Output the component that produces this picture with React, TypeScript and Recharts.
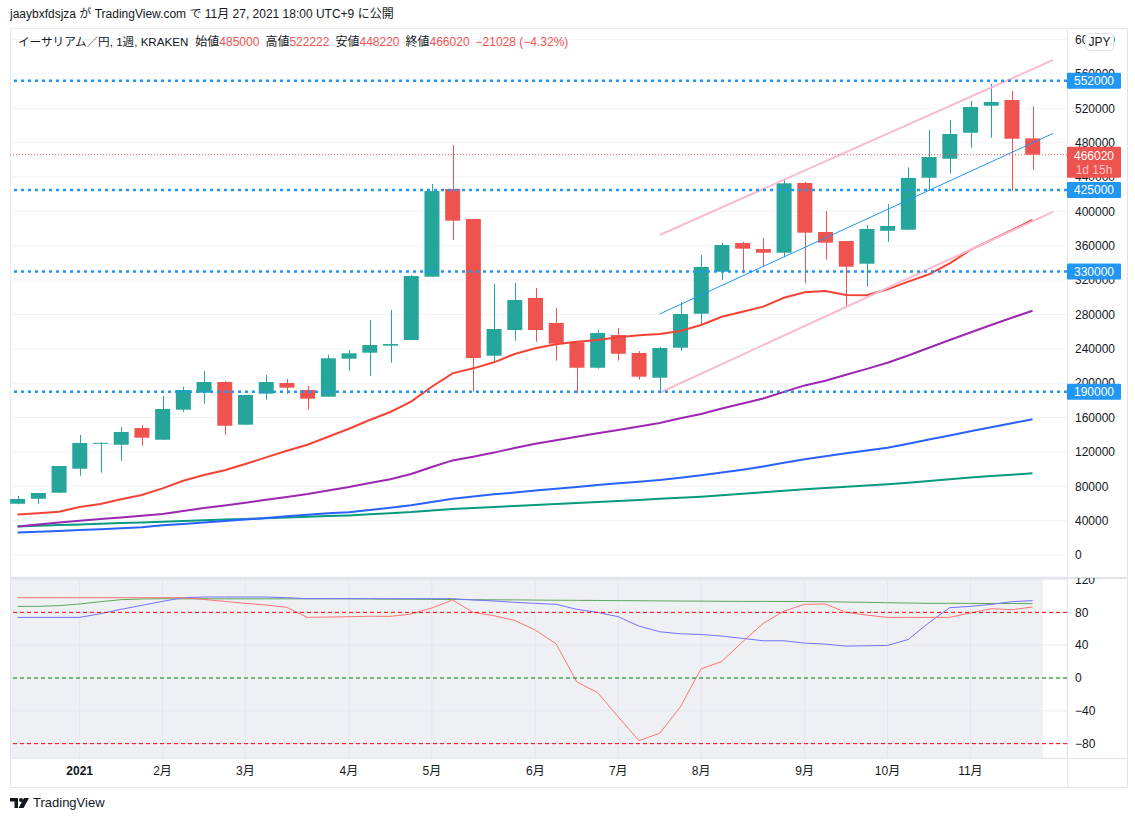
import React from 'react';
import {
  Bar,
  CartesianGrid,
  ComposedChart,
  Line,
  ReferenceArea,
  ReferenceLine,
  XAxis,
  YAxis,
} from 'recharts';

const FONT = '"Liberation Sans", "Noto Sans CJK JP", Arial, sans-serif';
const TEXT = '#131722';
const UP = '#26a69a';
const DOWN = '#ef5350';
const BORDER = '#e0e3eb';

// weekly candles, 2020-12-14 .. 2021-11-22 (ETH/JPY, KRAKEN)
const opens = [
  59700, 65500, 72500, 100500, 129800, 128400, 147800, 134200, 169200, 188900,
  201400, 151700, 187800, 200200, 192100, 184300, 228500, 235500, 243700, 250300,
  324000, 426100, 391200, 232000, 261900, 299200, 270100, 247600, 218000, 256100,
  235200, 206400, 241300, 280900, 329800, 363200, 356200, 351900, 433100, 376000,
  365500, 339100, 377500, 378700, 439200, 461300, 491600, 523000, 529700, 485000,
];
const highs = [
  68700, 72200, 103600, 139700, 131200, 149000, 151300, 185100, 195900, 214200,
  202600, 186300, 209500, 204900, 196700, 233000, 238600, 273600, 285200, 326000,
  431900, 477300, 391200, 315500, 316600, 310800, 287500, 247600, 261900, 264300,
  237500, 242100, 294500, 349200, 363600, 364700, 369000, 437400, 434200, 400500,
  365500, 384200, 408600, 451300, 494800, 506400, 528500, 548300, 540200, 522222,
];
const lows = [
  59000, 59700, 72500, 92300, 95800, 109800, 127200, 134200, 166500, 176100,
  140000, 151700, 180800, 187800, 169200, 184300, 214600, 208700, 223900, 250300,
  324000, 366700, 190100, 225800, 249500, 248300, 226200, 188200, 216900, 226200,
  204100, 190100, 237800, 267800, 320100, 327900, 336400, 346600, 316300, 343800,
  289900, 312300, 364700, 378700, 424100, 443900, 474200, 485800, 423700, 448220,
];
const closes = [
  65200, 72200, 103600, 130400, 130600, 143200, 136600, 170000, 192100, 201400,
  150500, 186300, 201400, 194800, 182000, 229000, 234800, 244500, 245600, 324800,
  423700, 389200, 229300, 263100, 296900, 261900, 246000, 218000, 258400, 234300,
  207600, 241000, 280600, 335300, 360900, 356600, 351900, 432700, 375200, 363600,
  335600, 379500, 383000, 438900, 463300, 490100, 521500, 527400, 484600, 466020,
];

const maRed = [
  47100, 48500, 50400, 55900, 59400, 64800, 69800, 77600, 86500, 93100,
  98600, 105900, 113700, 121400, 128400, 137700, 147000, 157200, 166500, 178500,
  195900, 211500, 217300, 224300, 234000, 240600, 245300, 248300, 250300, 253400,
  255800, 257300, 260800, 267800, 277400, 283200, 289100, 299500, 305800, 307300,
  302700, 302300, 309300, 318200, 326800, 339600, 355100, 366700, 378300, 390000,
];
const maPurple = [
  33060, 35390, 37720, 39930, 41790, 43650, 45630, 47730, 51220, 54710,
  57740, 60880, 64260, 67640, 71010, 75200, 79160, 83930, 88240, 94290,
  102440, 110130, 114430, 119210, 124560, 129450, 133530, 137600, 141680, 145520,
  149590, 153670, 159140, 164140, 170550, 176370, 182190, 189870, 197440, 202910,
  209780, 216650, 223870, 232250, 241210, 250290, 259020, 267750, 276140, 284400,
];
const maBlue = [
  26190, 27010, 27940, 29100, 30030, 31080, 32250, 34570, 36090, 37830,
  39580, 41330, 43070, 45050, 46800, 48540, 49710, 52390, 55060, 57860,
  61700, 65420, 68100, 70660, 72640, 74970, 77070, 79160, 81490, 83470,
  85330, 87310, 89990, 92780, 96040, 99180, 103030, 107330, 111530, 114900,
  118390, 121650, 124910, 129570, 134460, 139120, 144120, 148780, 153430, 157970,
];
const maGreen = [
  33180, 33990, 34810, 35620, 36440, 37140, 37950, 38770, 39580, 40400,
  41210, 42030, 42720, 43540, 44470, 45290, 46100, 47380, 48660, 49940,
  51800, 53670, 54830, 56000, 57160, 58210, 59370, 60540, 61700, 62860,
  64030, 65420, 66590, 67870, 69610, 71360, 72990, 74740, 76480, 78000,
  79390, 80910, 82310, 84170, 86150, 88130, 90220, 91850, 93480, 95110,
];

const oscRed = [
  97.9, 97.9, 97.9, 97.9, 97.9, 97.9, 97.9, 97.9, 97.9, 95.7,
  93.4, 91, 89, 86.1, 73.9, 74.3, 74.7, 75.3, 75.1, 78,
  85.3, 95.1, 80, 75.9, 70.2, 58.4, 41.7, -4.7, -17.7, -47.4,
  -76.3, -67.4, -35.2, 11.2, 20.2, 44, 66.6, 81.6, 89.8, 90.2,
  80, 76.7, 73.9, 73.9, 73.9, 73.9, 79.2, 84.5, 83.3, 86.5,
];
const oscBlue = [
  73.9, 73.9, 73.9, 73.9, 78.4, 83.7, 88.6, 93.4, 97.9, 98.7,
  98.7, 98.7, 98.7, 97.9, 96.7, 96.7, 96.7, 96.7, 96.7, 96.7,
  96.7, 96.7, 95.1, 93.9, 92.2, 91, 89.8, 83.7, 80, 74.7,
  63.3, 56.4, 53.9, 53.1, 51.1, 48.3, 45.4, 45.4, 42.5, 41.3,
  38.9, 39.3, 39.7, 47, 67.4, 85.7, 87.3, 89.8, 93, 94.3,
];
const oscGreen = [
  87.3, 87.3, 88.2, 90.2, 93, 95.5, 96.3, 96.7, 96.5, 96.5,
  96.5, 96.5, 96.5, 96.5, 96.5, 96.5, 96.5, 96.3, 96.1, 96,
  95.8, 95.7, 95.5, 95.3, 95.2, 95, 94.8, 94.7, 94.5, 94.3,
  94.2, 94, 93.8, 93.7, 93.5, 93.4, 93.4, 93.3, 93.2, 93,
  92.6, 92.2, 91.8, 91.4, 91, 91, 91, 90.8, 90.8, 90.6,
];

const monthTicks = [3, 7, 11, 16, 20, 25, 29, 33, 38, 42, 46];
const monthLabels = ['2021', '2月', '3月', '4月', '5月', '6月', '7月', '8月', '9月', '10月', '11月'];

const priceTicks = [
  0, 40000, 80000, 120000, 160000, 200000, 240000, 280000,
  320000, 360000, 400000, 440000, 480000, 520000, 560000, 600000,
];
const oscTicks = [120, 80, 40, 0, -40, -80];

const levels = [552000, 425000, 330000, 190000];
const lastPrice = 466020;
const countdown = '1d 15h';

const channelTop = [{ x: 31, y: 372500 }, { x: 50, y: 576300 }];
const channelBottom = [{ x: 31, y: 188900 }, { x: 50, y: 399700 }];
const trendMid = [{ x: 31, y: 280600 }, { x: 50, y: 490900 }];

const X_DOMAIN: [number, number] = [-0.362, 50.664];
const PRICE_DOMAIN: [number, number] = [-25600, 613500];
const OSC_DOMAIN: [number, number] = [-97.5, 121.9];

const rows = opens.map((o, i) => ({
  i,
  o,
  h: highs[i],
  l: lows[i],
  c: closes[i],
  range: [lows[i], highs[i]],
  maRed: maRed[i],
  maPurple: maPurple[i],
  maBlue: maBlue[i],
  maGreen: maGreen[i],
  oscRed: oscRed[i],
  oscBlue: oscBlue[i],
  oscGreen: oscGreen[i],
}));

function Candle(props: any) {
  const { x, y, width, height, payload } = props;
  if (!payload || height == null || isNaN(y)) return null;
  const top = Math.min(y, y + height);
  const span = Math.abs(height);
  const { o, h, l, c } = payload;
  const k = span / (h - l || 1);
  const bodyHi = Math.max(o, c);
  const bodyLo = Math.min(o, c);
  const col = c >= o ? UP : DOWN;
  const cx = Math.round(x + width / 2) + 0.5;
  return (
    <g>
      <line x1={cx} x2={cx} y1={top} y2={top + span} stroke={col} strokeWidth={1} />
      <rect x={x} y={top + (h - bodyHi) * k} width={width} height={Math.max(1, (bodyHi - bodyLo) * k)} fill={col} />
    </g>
  );
}

function LevelTag(props: any) {
  const { viewBox, text } = props;
  if (!viewBox) return null;
  const left = viewBox.x + viewBox.width;
  const y = viewBox.y;
  return (
    <g>
      <rect x={left} y={y - 8} width={54} height={16} rx={1} fill="#2196f3" />
      <text x={left + 27} y={y} dy="0.36em" textAnchor="middle" fill="#fff" fontSize={12} fontFamily={FONT}>
        {text}
      </text>
    </g>
  );
}

function LastTag(props: any) {
  const { viewBox } = props;
  if (!viewBox) return null;
  const left = viewBox.x + viewBox.width;
  const y = viewBox.y;
  return (
    <g>
      <rect x={left} y={y - 8} width={54} height={31} rx={1} fill="#ef5350" />
      <text x={left + 27} y={y + 1} dy="0.36em" textAnchor="middle" fill="#fff" fontSize={12} fontFamily={FONT}>
        {lastPrice}
      </text>
      <text x={left + 27} y={y + 15} dy="0.36em" textAnchor="middle" fill="#fbc4c4" fontSize={12} fontFamily={FONT}>
        {countdown}
      </text>
    </g>
  );
}

function TimeTick(props: any) {
  const { x, y, payload } = props;
  const label = monthLabels[monthTicks.indexOf(payload.value)];
  return (
    <text x={x} y={y} dy="0.71em" textAnchor="middle" fill={TEXT} fontSize={12} fontFamily={FONT}
      fontWeight={label === '2021' ? 700 : 400}>
      {label}
    </text>
  );
}

const axisTick = { fill: TEXT, fontSize: 12, fontFamily: FONT };

export default function App() {
  return (
    <div style={{ position: 'absolute', left: 0, top: 0, width: 1135, height: 821, background: '#fff', fontFamily: FONT, color: TEXT }}>
      <div style={{ position: 'absolute', left: 10, top: 6, fontSize: 12, lineHeight: '16px', whiteSpace: 'nowrap' }}>
        jaaybxfdsjza が TradingView.com で 11月 27, 2021 18:00 UTC+9 に公開
      </div>

      {/* frame and pane separators */}
      <div style={{ position: 'absolute', left: 10, top: 28, width: 1116, height: 758, border: `1px solid ${BORDER}` }} />
      <div style={{ position: 'absolute', left: 10, top: 577, width: 1117, height: 2, background: BORDER }} />
      <div style={{ position: 'absolute', left: 10, top: 758, width: 1117, height: 1, background: BORDER }} />
      <div style={{ position: 'absolute', left: 1067, top: 28, width: 1, height: 759, background: BORDER }} />

      <div style={{ position: 'absolute', left: 10, top: 28 }}>
        <ComposedChart width={1117} height={549} data={rows} margin={{ top: 0, right: 0, bottom: 0, left: 0 }}>
          <CartesianGrid stroke="#f0f3fa" />
          <XAxis dataKey="i" type="number" domain={X_DOMAIN} ticks={monthTicks} allowDataOverflow
            height={0} tick={false} axisLine={false} tickLine={false} />
          <YAxis orientation="right" type="number" domain={PRICE_DOMAIN} ticks={priceTicks} allowDataOverflow
            width={60} axisLine={false} tickLine={false} tick={axisTick} interval={0} />
          <Line dataKey="maGreen" stroke="#089981" strokeWidth={2} dot={false} isAnimationActive={false} />
          <Line dataKey="maBlue" stroke="#2962ff" strokeWidth={2} dot={false} isAnimationActive={false} />
          <Line dataKey="maPurple" stroke="#9c27b0" strokeWidth={2} dot={false} isAnimationActive={false} />
          <Line dataKey="maRed" stroke="#f44336" strokeWidth={2} dot={false} isAnimationActive={false} />
          <Bar dataKey="range" barSize={15} shape={(p: any) => <Candle {...p} />} isAnimationActive={false} />
          <ReferenceLine segment={channelTop} stroke="#f8bbd0" strokeWidth={2} />
          <ReferenceLine segment={channelBottom} stroke="#f8bbd0" strokeWidth={2} />
          <ReferenceLine segment={trendMid} stroke="#2196f3" strokeWidth={1} />
          {levels.map((v) => (
            <ReferenceLine key={v} y={v} stroke="#2196f3" strokeWidth={2.5} strokeDasharray="3 4" />
          ))}
          <ReferenceLine y={lastPrice} stroke="#ef5350" strokeWidth={1} strokeDasharray="1 2" />
        </ComposedChart>
      </div>

      {/* price tags on the scale */}
      <div style={{ position: 'absolute', left: 10, top: 28 }}>
        <ComposedChart width={1117} height={549} data={rows} margin={{ top: 0, right: 0, bottom: 0, left: 0 }}>
          <XAxis dataKey="i" type="number" domain={X_DOMAIN} allowDataOverflow height={0} tick={false} axisLine={false} tickLine={false} />
          <YAxis orientation="right" type="number" domain={PRICE_DOMAIN} allowDataOverflow width={60} tick={false} axisLine={false} tickLine={false} />
          {levels.map((v) => (
            <ReferenceLine key={v} y={v} stroke="none" label={(p: any) => <LevelTag {...p} text={String(v)} />} />
          ))}
          <ReferenceLine y={lastPrice} stroke="none" label={(p: any) => <LastTag {...p} />} />
        </ComposedChart>
      </div>

      <div style={{ position: 'absolute', left: 10, top: 578 }}>
        <ComposedChart width={1117} height={209} data={rows} margin={{ top: 0, right: 0, bottom: 0, left: 0 }}>
          <ReferenceArea x2={49.5} fill="#dfe2ea" fillOpacity={0.5} stroke="none" />
          <CartesianGrid stroke="#e9ecf2" />
          <XAxis dataKey="i" type="number" domain={X_DOMAIN} ticks={monthTicks} allowDataOverflow interval={0}
            height={29} axisLine={false} tickLine={false} tick={(p: any) => <TimeTick {...p} />} />
          <YAxis orientation="right" type="number" domain={OSC_DOMAIN} ticks={oscTicks} allowDataOverflow interval={0}
            width={60} axisLine={false} tickLine={false} tick={axisTick}
            tickFormatter={(v: number) => String(v).replace('-', '\u2212')} />
          <Line dataKey="oscGreen" stroke="#5aa85a" strokeWidth={1} dot={false} isAnimationActive={false} />
          <Line dataKey="oscBlue" stroke="#7272ff" strokeWidth={1} dot={false} isAnimationActive={false} />
          <Line dataKey="oscRed" stroke="#ff7474" strokeWidth={1} dot={false} isAnimationActive={false} />
          <ReferenceLine y={80} stroke="#ff0000" strokeDasharray="4 3" />
          <ReferenceLine y={0} stroke="#008000" strokeDasharray="4 3" />
          <ReferenceLine y={-80} stroke="#ff0000" strokeDasharray="4 3" />
        </ComposedChart>
      </div>

      <div style={{ position: 'absolute', left: 18, top: 34, fontSize: 12, lineHeight: '16px', whiteSpace: 'nowrap' }}>
        <span style={{ fontSize: 11.6 }}>イーサリアム／円, 1週, KRAKEN</span>
        <span style={{ marginLeft: 7 }}>始値</span><span style={{ color: DOWN }}>485000</span>
        <span style={{ marginLeft: 6 }}>高値</span><span style={{ color: DOWN }}>522222</span>
        <span style={{ marginLeft: 6 }}>安値</span><span style={{ color: DOWN }}>448220</span>
        <span style={{ marginLeft: 6 }}>終値</span><span style={{ color: DOWN }}>466020</span>
        <span style={{ marginLeft: 6, color: DOWN }}>{'\u221221028 (\u22124.32%)'}</span>
      </div>

      <div style={{ position: 'absolute', left: 1085, top: 33, width: 27, height: 16, border: `1px solid ${BORDER}`, borderRadius: 4,
        background: '#fff', fontSize: 12, lineHeight: '16px', textAlign: 'center' }}>
        JPY
      </div>

      <svg width={22} height={14} style={{ position: 'absolute', left: 10, top: 796 }}>
        <path d="M0 2h8v10H4.5V5.5H0z" fill={TEXT} />
        <circle cx={11} cy={4} r={2} fill={TEXT} />
        <path d="M14 2h5l-5.5 10h-5z" fill={TEXT} />
      </svg>
      <div style={{ position: 'absolute', left: 33, top: 795, fontSize: 13, lineHeight: '16px' }}>TradingView</div>
    </div>
  );
}
